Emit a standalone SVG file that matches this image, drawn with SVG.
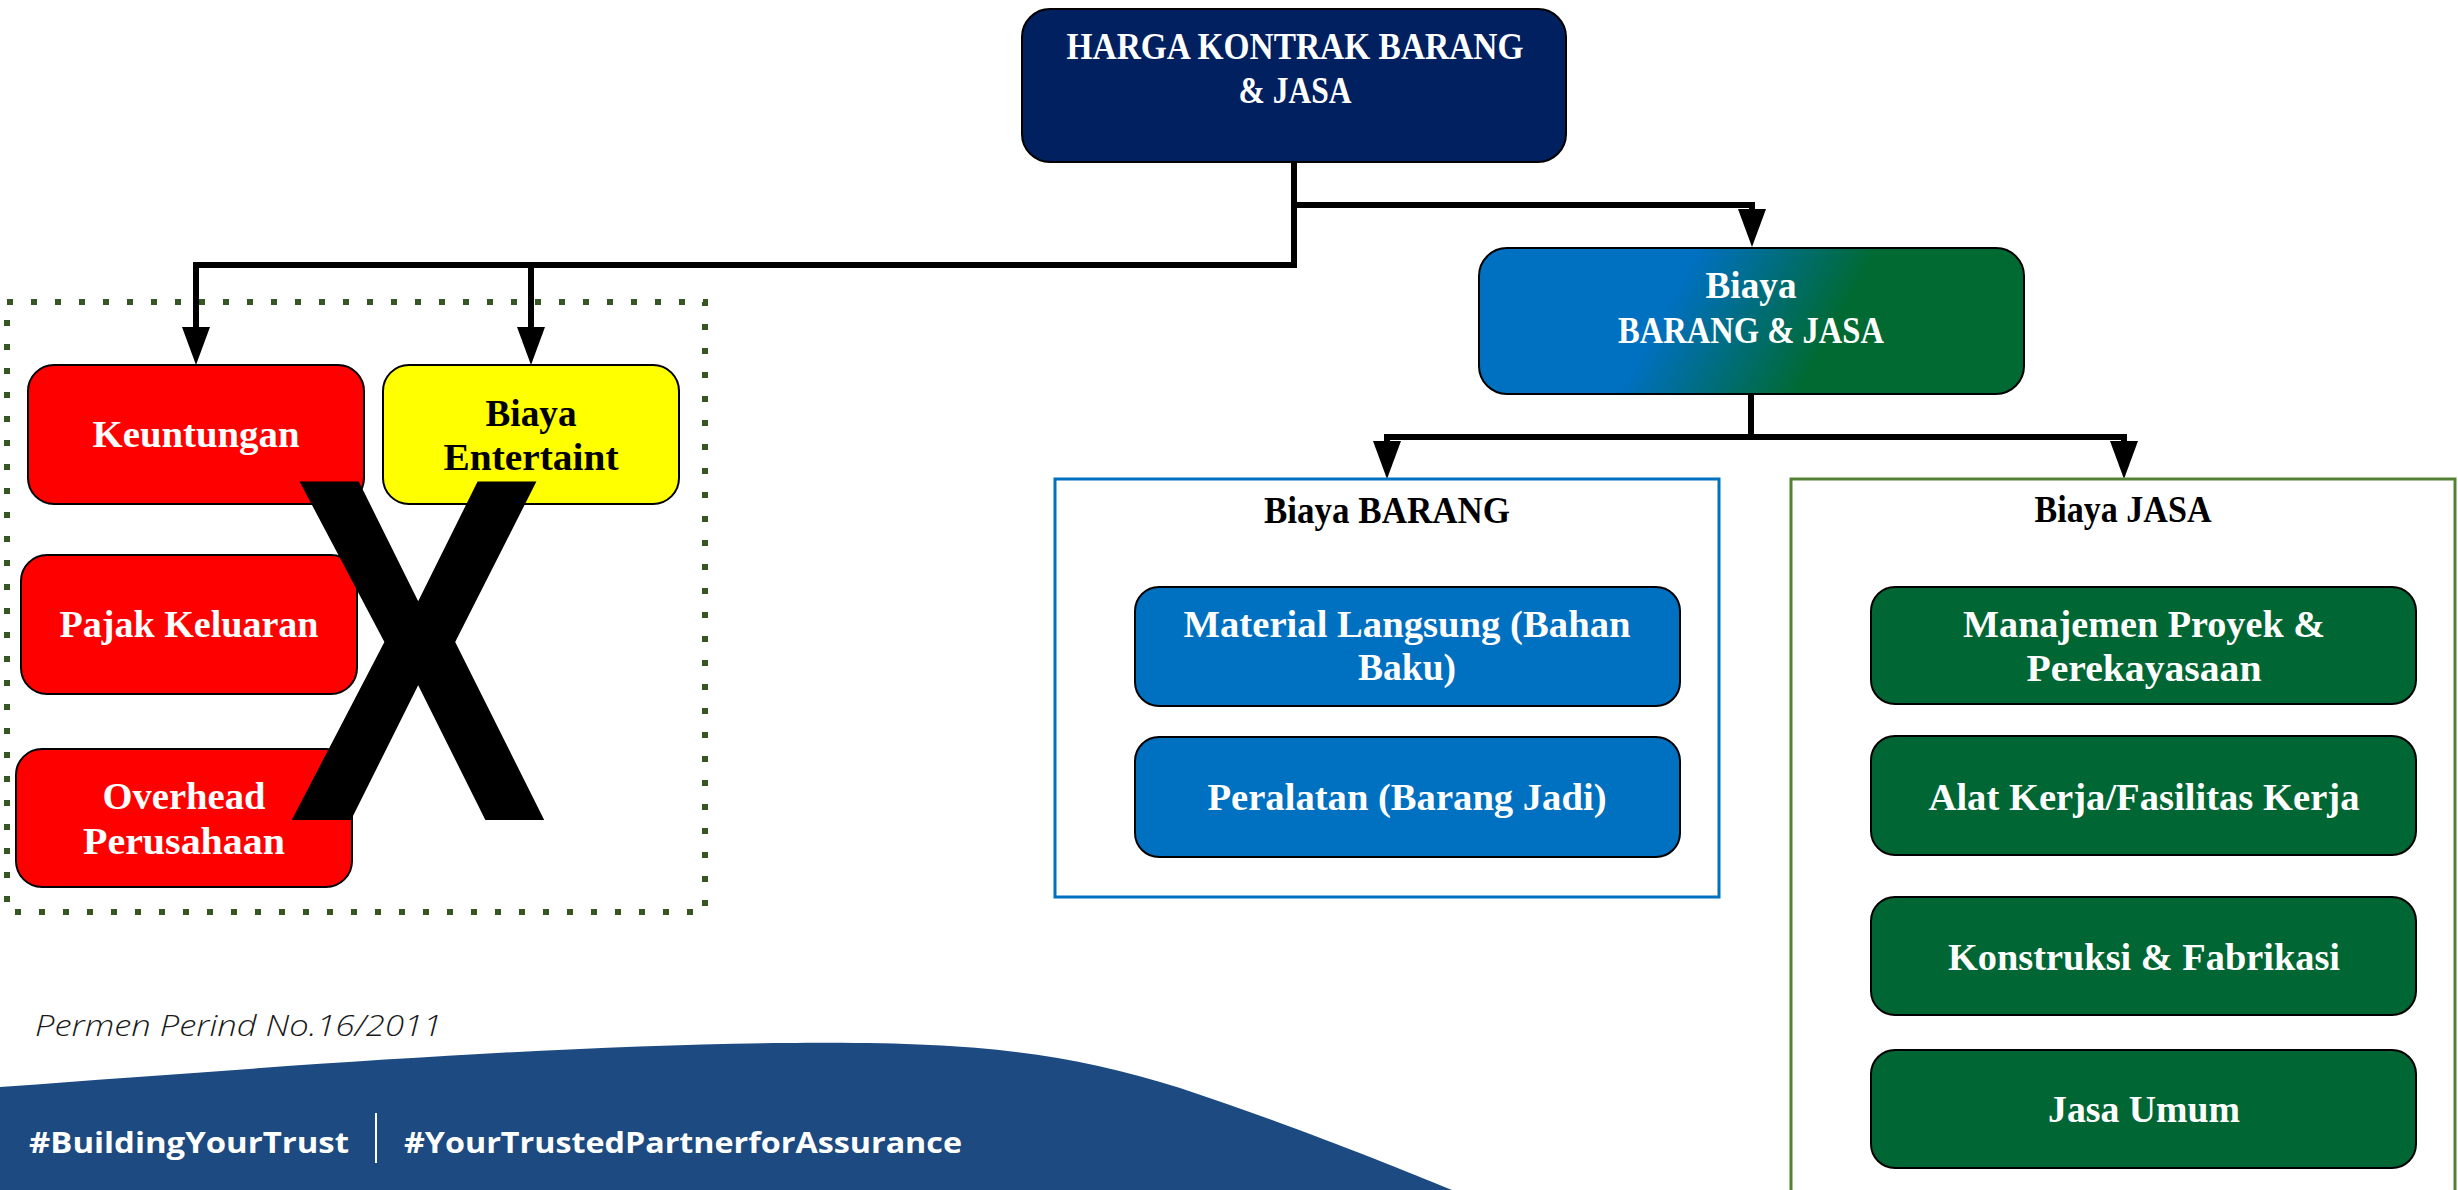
<svg xmlns="http://www.w3.org/2000/svg" width="2458" height="1190" viewBox="0 0 2458 1190">
<style>
.lbl{font-family:"Liberation Serif","DejaVu Serif",serif;font-weight:bold;font-size:38px;text-anchor:middle}
.w{fill:#ffffff}
.k{fill:#000000}
.node{stroke:#000000;stroke-width:2}
.conn{fill:none;stroke:#000000;stroke-width:6;stroke-linejoin:miter;stroke-linecap:butt}
.tag{font-family:"Open Sans","Liberation Sans",sans-serif;font-weight:bold;font-size:29px;fill:#ffffff}
</style>
<defs>
<marker id="arr" viewBox="0 0 38 28" markerUnits="userSpaceOnUse" markerWidth="38" markerHeight="28" refX="0" refY="14" orient="auto">
<path d="M0,0 L38,14 L0,28 Z" fill="#000000"/>
</marker>
<linearGradient id="bjgrad" x1="0" y1="0" x2="1" y2="0.15">
<stop offset="0.40" stop-color="#0070C0"/>
<stop offset="0.72" stop-color="#006A32"/>
</linearGradient>
</defs>
<rect x="0" y="0" width="2458" height="1190" fill="#ffffff"/>

<g id="footer">
<path d="M0,1087 C300,1065 560,1045 785,1043 C960,1041 1060,1050 1180,1088 C1300,1128 1390,1165 1452,1190 L0,1190 Z" fill="#1C4A81"/>
<text x="35" y="1036" font-family="'Open Sans','Liberation Sans',sans-serif" font-style="italic" font-weight="300" font-size="29" fill="#1a1a1a" textLength="407" lengthAdjust="spacingAndGlyphs">Permen Perind No.16/2011</text>
<text class="tag" x="29" y="1153" textLength="320" lengthAdjust="spacingAndGlyphs">#BuildingYourTrust</text>
<line x1="376" y1="1113" x2="376" y2="1163" stroke="#ffffff" stroke-width="2"/>
<text class="tag" x="404" y="1153" textLength="558" lengthAdjust="spacingAndGlyphs">#YourTrustedPartnerforAssurance</text>
</g>

<g id="excluded-group">
<rect x="7" y="302" width="698" height="610" fill="none" stroke="#375623" stroke-width="6" stroke-dasharray="6 18"/>
</g>

<g id="connectors">
<path class="conn" d="M1294,163 V265 H196 V327" marker-end="url(#arr)"/>
<path class="conn" d="M531,265 V327" marker-end="url(#arr)"/>
<path class="conn" d="M1294,205 H1752 V209" marker-end="url(#arr)"/>
<path class="conn" d="M1751,395 V437 H1387 V441" marker-end="url(#arr)"/>
<path class="conn" d="M1751,437 H2124 V441" marker-end="url(#arr)"/>
</g>

<g id="harga-kontrak">
<rect class="node" x="1022" y="9" width="544" height="153" rx="28" fill="#002060"/>
<text class="lbl w" x="1295" y="59" textLength="457" lengthAdjust="spacingAndGlyphs">HARGA KONTRAK BARANG</text>
<text class="lbl w" x="1295" y="103" textLength="113" lengthAdjust="spacingAndGlyphs">&amp; JASA</text>
</g>

<g id="biaya-barang-jasa">
<rect class="node" x="1479" y="248" width="545" height="146" rx="28" fill="url(#bjgrad)"/>
<text class="lbl w" x="1751" y="298" textLength="91" lengthAdjust="spacingAndGlyphs">Biaya</text>
<text class="lbl w" x="1751" y="343" textLength="266" lengthAdjust="spacingAndGlyphs">BARANG &amp; JASA</text>
</g>

<g id="biaya-barang">
<rect x="1055" y="479" width="664" height="418" fill="#ffffff" stroke="#0070C0" stroke-width="3"/>
<text class="lbl k" x="1387" y="523" textLength="246" lengthAdjust="spacingAndGlyphs">Biaya BARANG</text>
</g>
<g id="material-langsung">
<rect class="node" x="1135" y="587" width="545" height="119" rx="24" fill="#0070C0"/>
<text class="lbl w" x="1407" y="637" textLength="447" lengthAdjust="spacingAndGlyphs">Material Langsung (Bahan</text>
<text class="lbl w" x="1407" y="680" textLength="98" lengthAdjust="spacingAndGlyphs">Baku)</text>
</g>
<g id="peralatan">
<rect class="node" x="1135" y="737" width="545" height="120" rx="24" fill="#0070C0"/>
<text class="lbl w" x="1407" y="810" textLength="399" lengthAdjust="spacingAndGlyphs">Peralatan (Barang Jadi)</text>
</g>

<g id="biaya-jasa">
<rect x="1791" y="479" width="664" height="730" fill="#ffffff" stroke="#548235" stroke-width="3"/>
<text class="lbl k" x="2123" y="522" textLength="177" lengthAdjust="spacingAndGlyphs">Biaya JASA</text>
</g>
<g id="manajemen-proyek">
<rect class="node" x="1871" y="587" width="545" height="117" rx="24" fill="#006633"/>
<text class="lbl w" x="2144" y="637" textLength="362" lengthAdjust="spacingAndGlyphs">Manajemen Proyek &amp;</text>
<text class="lbl w" x="2144" y="681" textLength="235" lengthAdjust="spacingAndGlyphs">Perekayasaan</text>
</g>
<g id="alat-kerja">
<rect class="node" x="1871" y="736" width="545" height="119" rx="24" fill="#006633"/>
<text class="lbl w" x="2144" y="810" textLength="431" lengthAdjust="spacingAndGlyphs">Alat Kerja/Fasilitas Kerja</text>
</g>
<g id="konstruksi">
<rect class="node" x="1871" y="897" width="545" height="118" rx="24" fill="#006633"/>
<text class="lbl w" x="2144" y="970" textLength="392" lengthAdjust="spacingAndGlyphs">Konstruksi &amp; Fabrikasi</text>
</g>
<g id="jasa-umum">
<rect class="node" x="1871" y="1050" width="545" height="118" rx="24" fill="#006633"/>
<text class="lbl w" x="2144" y="1122" textLength="192" lengthAdjust="spacingAndGlyphs">Jasa Umum</text>
</g>

<g id="keuntungan">
<rect class="node" x="28" y="365" width="336" height="139" rx="26" fill="#FF0000"/>
<text class="lbl w" x="196" y="447" textLength="207" lengthAdjust="spacingAndGlyphs">Keuntungan</text>
</g>
<g id="biaya-entertaint">
<rect class="node" x="383" y="365" width="296" height="139" rx="26" fill="#FFFF00"/>
<text class="lbl k" x="531" y="426" textLength="91" lengthAdjust="spacingAndGlyphs">Biaya</text>
<text class="lbl k" x="531" y="470" textLength="175" lengthAdjust="spacingAndGlyphs">Entertaint</text>
</g>
<g id="pajak-keluaran">
<rect class="node" x="21" y="555" width="336" height="139" rx="26" fill="#FF0000"/>
<text class="lbl w" x="189" y="637" textLength="259" lengthAdjust="spacingAndGlyphs">Pajak Keluaran</text>
</g>
<g id="overhead">
<rect class="node" x="16" y="749" width="336" height="138" rx="26" fill="#FF0000"/>
<text class="lbl w" x="184" y="809" textLength="163" lengthAdjust="spacingAndGlyphs">Overhead</text>
<text class="lbl w" x="184" y="854" textLength="202" lengthAdjust="spacingAndGlyphs">Perusahaan</text>
</g>

<g id="cross">
<text transform="translate(418,820) scale(0.79,1)" x="0" y="0" font-family="'Liberation Sans','Open Sans',sans-serif" font-weight="bold" font-size="492" text-anchor="middle" fill="#000000">X</text>
</g>
</svg>
